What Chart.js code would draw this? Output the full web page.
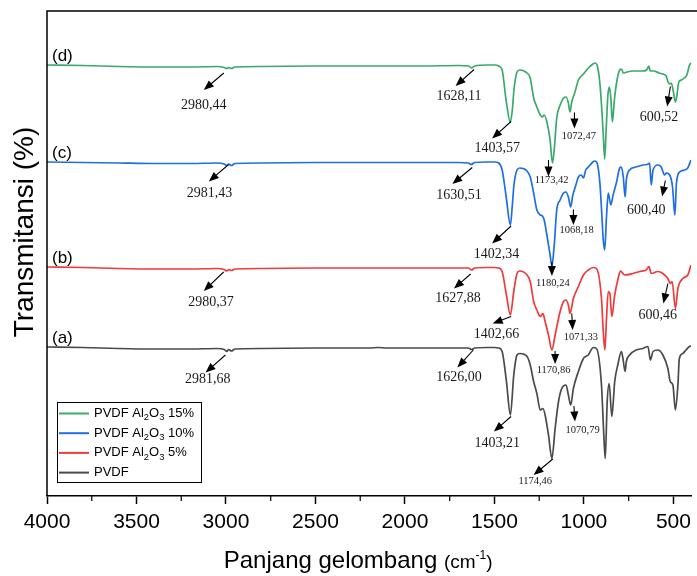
<!DOCTYPE html>
<html>
<head>
<meta charset="utf-8">
<script src="https://cdn.jsdelivr.net/npm/chart.js@4.4.1/dist/chart.umd.min.js"></script>
<style>
  html, body { margin: 0; padding: 0; background: #fff; }
</style>
</head>
<body>
<canvas id="ftir" width="697" height="576"></canvas>
<script>
// [wavenumber cm-1, transmittance (stacked, arbitrary units)]
const pvdf15 = [[4000,86.2],[3800,86.1],[3600,85.9],[3400,85.8],[3200,85.8],[3050,85.9],[3010,85.7],[2995,85.5],[2985,85.7],[2970,85.5],[2950,85.8],[2800,85.9],[2500,86.0],[2200,86.0],[1900,86.0],[1700,86.1],[1645,86.0],[1628,85.6],[1610,86.0],[1540,86.2],[1500,86.2],[1476,86.0],[1457,85.2],[1435,79.2],[1411,74.8],[1400,77.2],[1391,81.2],[1374,84.8],[1359,85.2],[1318,84.6],[1300,83.6],[1281,79.6],[1263,77.8],[1244,76.2],[1232,75.8],[1222,76.2],[1207,74.8],[1189,71.2],[1176,66.6],[1166,69.2],[1152,75.6],[1133,78.2],[1114,79.6],[1100,79.8],[1087,78.6],[1078,76.8],[1068,78.8],[1050,80.8],[1031,83.2],[1003,84.4],[975,85.6],[950,86.4],[939,86.6],[925,86.0],[910,82.2],[900,77.2],[892,72.2],[884,67.4],[876,73.2],[866,80.2],[858,81.8],[850,79.8],[841,74.8],[830,79.2],[815,83.2],[800,85.2],[790,85.4],[780,84.6],[760,84.8],[730,85.0],[700,85.0],[670,85.0],[650,85.2],[637,86.0],[630,85.0],[610,85.0],[580,84.6],[560,84.4],[540,84.0],[530,82.8],[520,82.4],[512,82.6],[500,80.8],[489,78.8],[480,80.2],[470,82.8],[455,83.2],[440,83.6],[425,84.2],[410,86.2],[400,86.6]];
const pvdf10 = [[4000,66.8],[3800,66.7],[3600,66.6],[3400,66.5],[3200,66.5],[3050,66.6],[3010,66.4],[2995,66.1],[2985,66.4],[2970,66.1],[2950,66.5],[2800,66.6],[2500,66.7],[2200,66.7],[1900,66.7],[1700,66.7],[1645,66.6],[1630,66.3],[1610,66.7],[1540,66.8],[1500,66.8],[1476,66.6],[1457,65.2],[1435,60.0],[1411,54.2],[1400,58.2],[1391,62.2],[1374,65.2],[1359,65.6],[1318,65.0],[1300,63.8],[1281,60.6],[1263,57.2],[1244,56.2],[1232,56.0],[1222,55.2],[1207,52.2],[1189,48.2],[1179,46.0],[1166,50.2],[1152,57.2],[1133,59.2],[1114,60.6],[1100,60.8],[1087,59.8],[1074,57.8],[1063,60.0],[1045,62.2],[1031,63.8],[1015,64.2],[1003,63.6],[990,65.2],[975,65.8],[950,66.8],[939,67.0],[925,66.4],[910,62.2],[900,56.2],[892,51.2],[884,49.2],[874,55.8],[864,60.6],[850,58.2],[837,60.2],[819,62.6],[800,65.6],[791,65.8],[780,63.8],[770,59.8],[763,63.2],[745,65.2],[710,65.8],[670,66.2],[640,66.4],[633,66.6],[624,62.2],[614,65.2],[587,66.2],[568,65.8],[550,64.2],[540,64.6],[521,64.2],[505,61.8],[492,56.2],[483,62.6],[465,64.8],[438,65.2],[420,65.6],[402,67.2]];
const pvdf5 = [[4000,45.8],[3800,45.7],[3600,45.5],[3400,45.4],[3200,45.4],[3050,45.5],[3010,45.3],[2995,45.0],[2985,45.3],[2970,45.1],[2950,45.4],[2800,45.5],[2500,45.6],[2200,45.6],[1900,45.6],[1700,45.6],[1645,45.6],[1628,45.2],[1610,45.6],[1540,45.7],[1500,45.7],[1476,45.6],[1457,44.9],[1433,40.2],[1411,36.2],[1392,40.9],[1374,44.5],[1359,45.0],[1318,44.2],[1300,42.9],[1281,38.9],[1263,37.2],[1244,35.9],[1229,36.5],[1217,34.9],[1198,32.2],[1179,29.2],[1161,32.2],[1133,36.9],[1114,38.9],[1100,39.2],[1087,38.2],[1078,36.5],[1059,39.5],[1031,41.9],[1003,44.2],[976,45.2],[948,45.7],[930,45.5],[902,39.5],[892,32.9],[883,29.2],[874,35.5],[864,40.9],[855,40.5],[844,35.9],[828,40.2],[809,43.5],[796,45.0],[772,44.2],[726,44.5],[689,44.9],[652,45.2],[637,45.9],[624,44.5],[587,44.9],[559,44.5],[531,43.5],[518,42.5],[507,42.9],[489,37.5],[475,41.5],[448,43.5],[420,44.2],[402,46.2]];
const pvdf = [[4000,29.8],[3800,29.7],[3600,29.5],[3400,29.4],[3200,29.4],[3050,29.5],[3010,29.3],[2995,28.9],[2985,29.3],[2970,29.0],[2950,29.4],[2800,29.5],[2500,29.6],[2200,29.6],[2150,29.7],[2100,29.6],[1900,29.6],[1700,29.6],[1645,29.6],[1628,29.3],[1610,29.6],[1540,29.7],[1500,29.7],[1476,29.6],[1457,28.9],[1433,22.9],[1411,16.2],[1392,24.2],[1374,28.2],[1359,28.5],[1318,27.9],[1300,26.2],[1281,22.9],[1263,20.5],[1244,17.2],[1229,17.5],[1217,16.2],[1198,12.2],[1179,7.5],[1161,13.5],[1142,18.9],[1124,21.5],[1100,22.2],[1087,20.2],[1074,18.2],[1059,21.5],[1031,24.9],[1003,27.5],[976,28.2],[948,29.7],[930,29.5],[902,22.2],[889,12.2],[881,7.5],[870,18.9],[859,22.5],[844,15.9],[828,22.9],[809,26.5],[791,28.9],[782,27.5],[770,24.9],[763,26.9],[745,28.2],[708,29.2],[670,29.5],[642,29.9],[629,27.2],[614,28.9],[587,29.2],[559,28.2],[531,25.5],[518,22.9],[503,22.2],[489,17.2],[475,22.2],[467,27.5],[448,28.5],[430,29.2],[411,29.9],[402,30.0]];

const seriesNames = ['PVDF Al2O3 15%', 'PVDF Al2O3 10%', 'PVDF Al2O3 5%', 'PVDF'];
const seriesTags = ['(d)', '(c)', '(b)', '(a)'];
const colors = ['#3aaa6a', '#1f6fe0', '#f03a3c', '#4a4a4a'];
const tickVals = [4000, 3500, 3000, 2500, 2000, 1500, 1000, 500];
const minorVals = [3750, 3250, 2750, 2250, 1750, 1250, 750];

// peak labels: text, small font?, label at, arrow tail, arrow head  ([wavenumber, transmittance])
const peaks = [
  ['2980,44', 0, [3124, 78.2], [3012, 84.6], [3124, 81.2]],
  ['1628,11', 0, [1698, 79.9], [1614, 85.3], [1717, 82.0]],
  ['1403,57', 0, [1485, 69.5], [1407, 74.9], [1513, 71.5]],
  ['1173,42', 1, [1180, 63.2], [1198, 67.2], [1198, 63.9]],
  ['1072,47', 1, [1028, 71.9], [1053, 76.7], [1053, 73.5]],
  ['600,52', 0, [581, 75.7], [517, 81.9], [535, 77.9]],
  ['2981,43', 0, [3092, 60.5], [2985, 66.3], [3096, 62.9]],
  ['1630,51', 0, [1698, 60.2], [1624, 65.7], [1735, 62.4]],
  ['1402,34', 0, [1489, 48.4], [1407, 54.0], [1513, 50.5]],
  ['1180,24', 1, [1174, 42.5], [1179, 46.8], [1179, 44.0]],
  ['1068,18', 1, [1041, 53.2], [1059, 57.3], [1059, 54.2]],
  ['600,40', 0, [652, 57.1], [545, 63.1], [563, 59.9]],
  ['2980,37', 0, [3083, 38.7], [3013, 44.8], [3124, 41.0]],
  ['1627,88', 0, [1703, 39.5], [1633, 44.4], [1726, 41.5]],
  ['1402,66', 0, [1489, 32.3], [1407, 35.9], [1510, 34.5]],
  ['1170,86', 1, [1170, 25.2], [1161, 29.0], [1161, 26.4]],
  ['1071,33', 1, [1017, 31.7], [1068, 36.5], [1063, 33.2]],
  ['600,46', 0, [587, 36.2], [531, 42.5], [556, 38.5]],
  ['2981,68', 0, [3102, 23.3], [3003, 28.2], [3114, 24.7]],
  ['1626,00', 0, [1698, 23.7], [1618, 29.2], [1707, 25.7]],
  ['1403,21', 0, [1485, 10.5], [1407, 15.9], [1503, 12.9]],
  ['1174,46', 1, [1272, 3.0], [1174, 7.4], [1281, 4.2]],
  ['1070,79', 1, [1007, 13.2], [1056, 18.0], [1050, 14.9]],
];

const SANS = '"Liberation Sans", Arial, sans-serif';
const SERIF = '"Liberation Serif", "Times New Roman", serif';
const allSeries = [pvdf15, pvdf10, pvdf5, pvdf];

function arrow(ctx, x1, y1, x2, y2) {
  const a = Math.atan2(y2 - y1, x2 - x1), len = 10, w = 4;
  const c = Math.cos(a), s = Math.sin(a);
  ctx.beginPath();
  ctx.moveTo(x1, y1);
  ctx.lineTo(x2 - c * len * 0.7, y2 - s * len * 0.7);
  ctx.stroke();
  ctx.beginPath();
  ctx.moveTo(x2, y2);
  ctx.lineTo(x2 - c * len + s * w, y2 - s * len - c * w);
  ctx.lineTo(x2 - c * len - s * w, y2 - s * len + c * w);
  ctx.closePath();
  ctx.fill();
}

// draw "Al2O3" style text with subscript digits after letters
function chemText(ctx, str, x, y, size) {
  let cx = x;
  for (let i = 0; i < str.length; i++) {
    const ch = str[i];
    const sub = /[23]/.test(ch) && /[lO]/.test(str[i - 1] || '');
    ctx.font = (sub ? size * 0.72 : size) + 'px ' + SANS;
    ctx.fillText(ch, cx, sub ? y + size * 0.32 : y);
    cx += ctx.measureText(ch).width;
  }
}

const decor = {
  id: 'decor',
  afterDraw(chart) {
    const { ctx, chartArea: a, scales: { x, y } } = chart;
    ctx.save();
    ctx.strokeStyle = '#000';
    ctx.fillStyle = '#000';
    ctx.lineWidth = 1.5;
    ctx.beginPath();
    ctx.moveTo(a.left, a.bottom);
    ctx.lineTo(a.left, a.top);
    ctx.lineTo(chart.width, a.top);
    ctx.stroke();

    ctx.lineWidth = 1.2;
    ctx.beginPath();
    minorVals.forEach(v => {
      const px = x.getPixelForValue(v);
      ctx.moveTo(px, a.bottom);
      ctx.lineTo(px, a.bottom + 5);
    });
    ctx.stroke();

    // series tags
    ctx.font = '17px ' + SANS;
    ctx.textBaseline = 'alphabetic';
    seriesTags.forEach((t, i) => {
      ctx.fillText(t, a.left + 5, y.getPixelForValue(allSeries[i][0][1]) - 4.5);
    });

    // peak labels + arrows
    ctx.fillStyle = '#1a1a1a';
    ctx.strokeStyle = '#000';
    ctx.lineWidth = 1.1;
    ctx.textAlign = 'center';
    ctx.textBaseline = 'middle';
    peaks.forEach(p => {
      ctx.font = (p[1] ? '10.5px ' : '14px ') + SERIF;
      ctx.fillText(p[0], x.getPixelForValue(p[2][0]), y.getPixelForValue(p[2][1]));
      ctx.fillStyle = '#000';
      arrow(ctx, x.getPixelForValue(p[3][0]), y.getPixelForValue(p[3][1]),
        x.getPixelForValue(p[4][0]), y.getPixelForValue(p[4][1]));
      ctx.fillStyle = '#1a1a1a';
    });

    // legend
    const lx = a.left + 10, ly = a.bottom - 94;
    ctx.fillStyle = '#fff';
    ctx.fillRect(lx, ly, 144, 80);
    ctx.strokeStyle = '#000';
    ctx.lineWidth = 1;
    ctx.strokeRect(lx + 0.5, ly + 0.5, 144, 80);
    ctx.textAlign = 'left';
    ctx.textBaseline = 'middle';
    seriesNames.forEach((n, i) => {
      const ry = ly + 11.5 + i * 19.7;
      ctx.strokeStyle = colors[i];
      ctx.lineWidth = 2;
      ctx.beginPath();
      ctx.moveTo(lx + 2, ry);
      ctx.lineTo(lx + 32, ry);
      ctx.stroke();
      ctx.fillStyle = '#000';
      chemText(ctx, n, lx + 37, ry, 13);
    });

    // axis titles
    ctx.fillStyle = '#000';
    ctx.textBaseline = 'alphabetic';
    const parts = [['Panjang gelombang ', 24, 0], ['(cm', 19, 0], ['-1', 12, -9], [')', 19, 0]];
    let total = 0;
    parts.forEach(p => { ctx.font = p[1] + 'px ' + SANS; total += ctx.measureText(p[0]).width; });
    let tx = (a.left + a.right) / 2 - 11 - total / 2;
    parts.forEach(p => {
      ctx.font = p[1] + 'px ' + SANS;
      ctx.fillText(p[0], tx, 568 + p[2]);
      tx += ctx.measureText(p[0]).width;
    });

    ctx.translate(33, 232);
    ctx.rotate(-Math.PI / 2);
    ctx.textAlign = 'center';
    ctx.font = '28px ' + SANS;
    ctx.fillText('Transmitansi (%)', 0, 0);
    ctx.restore();
  }
};

new Chart(document.getElementById('ftir'), {
  type: 'line',
  data: {
    datasets: allSeries.map((s, i) => ({
      label: seriesNames[i],
      data: s.map(p => ({ x: p[0], y: p[1] })),
      borderColor: colors[i],
      borderWidth: 1.7,
      pointRadius: 0,
      cubicInterpolationMode: 'monotone',
      fill: false,
    })),
  },
  options: {
    responsive: false,
    animation: false,
    devicePixelRatio: 1,
    layout: { padding: { left: 47, top: 11, right: 2, bottom: 0 } },
    plugins: { legend: { display: false }, tooltip: { enabled: false } },
    scales: {
      x: {
        type: 'linear',
        reverse: true,
        min: 400,
        max: 4000,
        afterBuildTicks: s => { s.ticks = tickVals.map(v => ({ value: v })); },
        afterFit: s => { s.height = 80; },
        ticks: {
          callback: v => String(v),
          color: '#000',
          padding: 6,
          maxRotation: 0,
          font: { family: SANS, size: 21 },
        },
        grid: { drawOnChartArea: false, drawTicks: true, tickLength: 8, tickColor: '#000', tickWidth: 1.5 },
        border: { color: '#000', width: 1.5 },
      },
      y: { display: false, min: 0, max: 97 },
    },
  },
  plugins: [decor],
});
</script>
</body>
</html>
